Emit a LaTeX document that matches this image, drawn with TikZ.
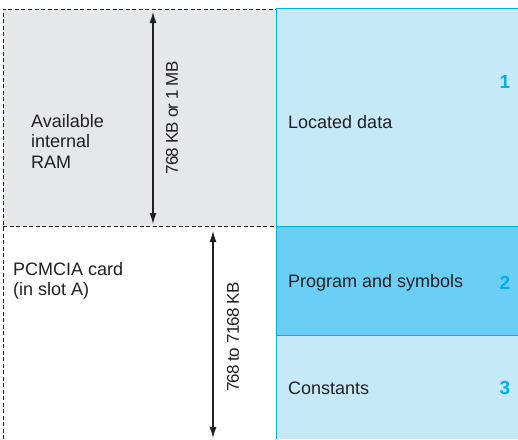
\documentclass[tikz,border=0pt]{standalone}
\usepackage{fontspec}
\setmainfont{Liberation Sans}
\newfontfamily\tightsans[LetterSpace=-4.5]{Liberation Sans}
\usetikzlibrary{arrows.meta}
\definecolor{ink}{HTML}{231F20}
\definecolor{ramgrey}{HTML}{E6E7E8}
\definecolor{lightblue}{HTML}{C6E9F9}
\definecolor{midblue}{HTML}{6BCEF5}
\definecolor{edgeblue}{HTML}{00AEEF}
\tikzset{
  txt/.style={text=ink, font=\fontsize{18}{20.5}\selectfont, inner sep=0pt},
  dimtxt/.style={text=ink, font=\tightsans\fontsize{17}{18}\selectfont, inner sep=0pt, rotate=90},
  num/.style={text=edgeblue, font=\fontsize{19}{20}\selectfont\bfseries, inner sep=0pt},
  dim/.style={draw=ink, line width=1.2pt, {Latex[length=11pt,width=7pt]}-{Latex[length=11pt,width=7pt]}},
  dashbox/.style={draw=ink, dashed, dash pattern=on 4pt off 2.5pt, line width=0.8pt},
  seg/.style={draw=edgeblue, line width=1pt}
}
\begin{document}
\begin{tikzpicture}[x=1pt,y=-1pt]
\useasboundingbox (0,0) rectangle (518,439);
% left regions
\fill[ramgrey] (3,9) rectangle (276,226);
\draw[dashbox] (3,439) -- (3,9) -- (276,9);
\draw[dashbox] (3,226) -- (276,226);
% right segments
\fill[lightblue] (276,8) rectangle (518,226);
\fill[midblue] (276,226) rectangle (518,335);
\fill[lightblue] (276,335) rectangle (518,439);
\draw[seg] (518,8) -- (276,8) -- (276,439);
\draw[seg] (276,226) -- (518,226);
\draw[seg] (276,335) -- (518,335);
% dimension arrows
\coordinate (a1t) at (153,12);
\coordinate (a1b) at (153,224);
\coordinate (a2t) at (213,231);
\coordinate (a2b) at (213,438);
\draw[dim] (a1t) -- (a1b);
\draw[dim] (a2t) -- (a2b);
\node[dimtxt] (d1) at (172,118) {768 KB or 1 MB};
\node[dimtxt] (d2) at (233,337) {768 to 7168 KB};
% left labels
\node[txt, anchor=west, align=left] (ram) at (31,141) {Available\\internal\\RAM};
\node[txt, anchor=west, align=left] (pc) at (13,281) {PCMCIA card\\(in slot A)};
% right labels
\node[txt, anchor=west] (l1) at (288,122) {Located data};
\node[txt, anchor=west] (l2) at (288,283) {Program and symbols};
\node[txt, anchor=west] (l3) at (288,388) {Constants};
\node[num] (n1) at (505,82) {1};
\node[num] (n2) at (505,283) {2};
\node[num] (n3) at (505,388) {3};
\end{tikzpicture}
\end{document}
